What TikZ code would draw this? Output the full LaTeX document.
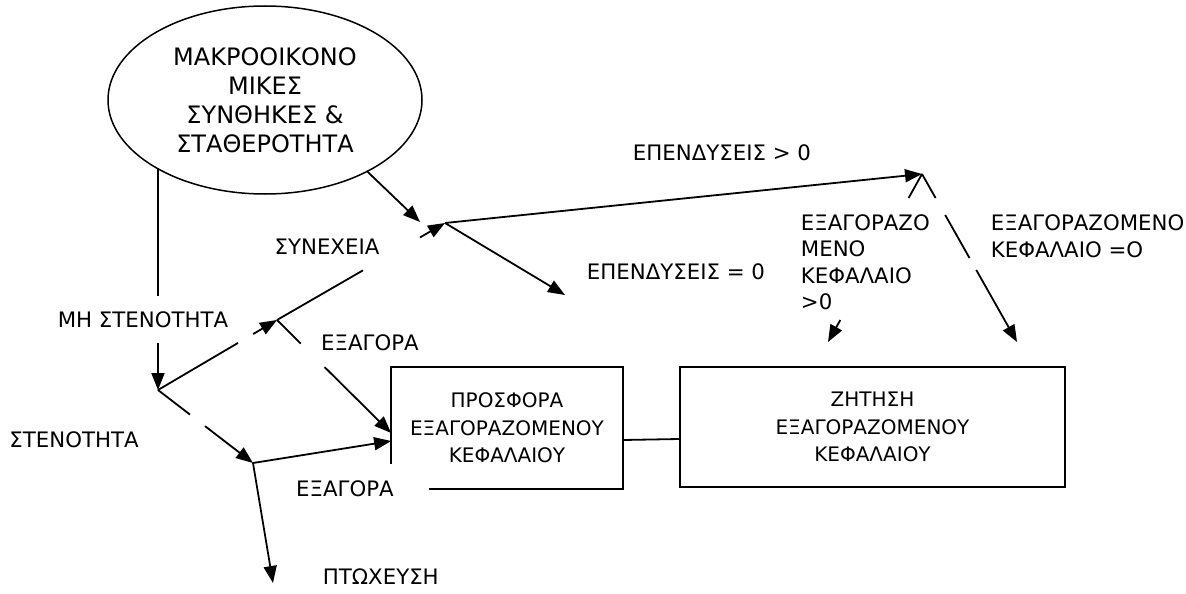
\documentclass[tikz,border=0pt]{standalone}
\usepackage{fontspec}
\setmainfont{DejaVu Sans}
\usetikzlibrary{shapes.geometric, positioning, calc, arrows.meta}

\begin{document}
\begin{tikzpicture}[x=1pt, y=-1pt, line width=1.8pt, line join=miter,
  arr/.style={-{Triangle[length=17pt,width=13pt]}},
  lab/.style={font=\fontsize{21.3}{26.5}\selectfont, inner sep=0pt},
  blk/.style={font=\fontsize{20}{27.5}\selectfont, align=center, inner sep=0pt, minimum height=120pt}]

\useasboundingbox (0,0) rectangle (1186,594);

\node[draw, ellipse, minimum width=314pt, minimum height=188pt, inner sep=0pt, align=center,
  font=\fontsize{24}{29}\selectfont, line width=1.5pt] (macro) at (265,100)
  {ΜΑΚΡΟΟΙΚΟΝΟ\\ΜΙΚΕΣ\\ΣΥΝΘΗΚΕΣ \&\\ΣΤΑΘΕΡΟΤΗΤΑ};

\node[blk, minimum width=230pt] (supply) at (507,428) {ΠΡΟΣΦΟΡΑ\\ΕΞΑΓΟΡΑΖΟΜΕΝΟΥ\\ΚΕΦΑΛΑΙΟΥ};
\node[blk, draw, minimum width=385pt] (demand) at (872.5,427) {ΖΗΤΗΣΗ\\ΕΞΑΓΟΡΑΖΟΜΕΝΟΥ\\ΚΕΦΑΛΑΙΟΥ};
\draw ([xshift=38pt]supply.south west) -- (supply.south east) -- (supply.north east) -- (supply.north west) -- ([yshift=25pt]supply.south west);
\draw ([yshift=-12pt]supply.east) -- ([yshift=-12pt]demand.west);

% junctions and free ends
\coordinate (p1) at (158,390);
\coordinate (p2) at (277,320);
\coordinate (p3) at (445,223);
\coordinate (p4) at (922,174);
\coordinate (p5) at (253,463);
\coordinate (p0) at (macro.-148 -| p1);
\coordinate (q1) at (420,222);
\coordinate (q2) at (565,295);
\coordinate (q3) at (828,342);
\coordinate (q4) at (1017,342);
\coordinate (q5) at (273,583);
\coordinate (s1) at ([yshift=-5pt]supply.west);
\coordinate (s2) at ([yshift=-13pt]supply.west);

\draw (p0) -- ($(p0)!.574!(p1)$);
\draw[arr] ($(p0)!.789!(p1)$) -- (p1);
\draw (p1) -- ($(p1)!.672!(p2)$);
\draw[arr] ($(p1)!.8!(p2)$) -- (p2);
\draw (p2) -- ($(p2)!.512!(p3)$);
\draw[arr] ($(p2)!.851!(p3)$) -- (p3);
\draw[arr] (macro.-35) -- (q1);
\draw[arr] (p3) -- (p4);
\draw[arr] (p3) -- (q2);
\draw (p4) -- ($(p4)!.143!(q3)$);
\draw[arr] ($(p4)!.869!(q3)$) -- (q3);
\draw (p4) -- ($(p4)!.143!(q4)$);
\draw ($(p4)!.244!(q4)$) -- ($(p4)!.5!(q4)$);
\draw[arr] ($(p4)!.571!(q4)$) -- (q4);
\draw (p1) -- ($(p1)!.337!(p5)$);
\draw[arr] ($(p1)!.495!(p5)$) -- (p5);
\draw (p2) -- ($(p2)!.209!(s1)$);
\draw[arr] ($(p2)!.417!(s1)$) -- (s1);
\draw[arr] (p5) -- (s2);
\draw[arr] (p5) -- (q5);

% labels
\node[lab] (mh) at (143,320) {ΜΗ ΣΤΕΝΟΤΗΤΑ};
\node[lab] (sten) at (74,440) {ΣΤΕΝΟΤΗΤΑ};
\node[lab] (syn) at (327,247) {ΣΥΝΕΧΕΙΑ};
\node[lab] (exa1) at (370,343) {ΕΞΑΓΟΡΑ};
\node[lab] (exa2) at (345,489) {ΕΞΑΓΟΡΑ};
\node[lab, anchor=west] (ptx) at (322,577) {ΠΤΩΧΕΥΣΗ};
\node[lab] (epg) at (722,153) {ΕΠΕΝΔΥΣΕΙΣ > 0};
\node[lab] (epz) at (676,272) {ΕΠΕΝΔΥΣΕΙΣ = 0};
\node[lab, anchor=west, align=left] (kpos) at (800,262) {ΕΞΑΓΟΡΑΖΟ\\ΜΕΝΟ\\ΚΕΦΑΛΑΙΟ\\>0};
\node[lab, anchor=west, align=left] (kzero) at (990,236) {ΕΞΑΓΟΡΑΖΟΜΕΝΟ\\ΚΕΦΑΛΑΙΟ =Ο};

\end{tikzpicture}
\end{document}
